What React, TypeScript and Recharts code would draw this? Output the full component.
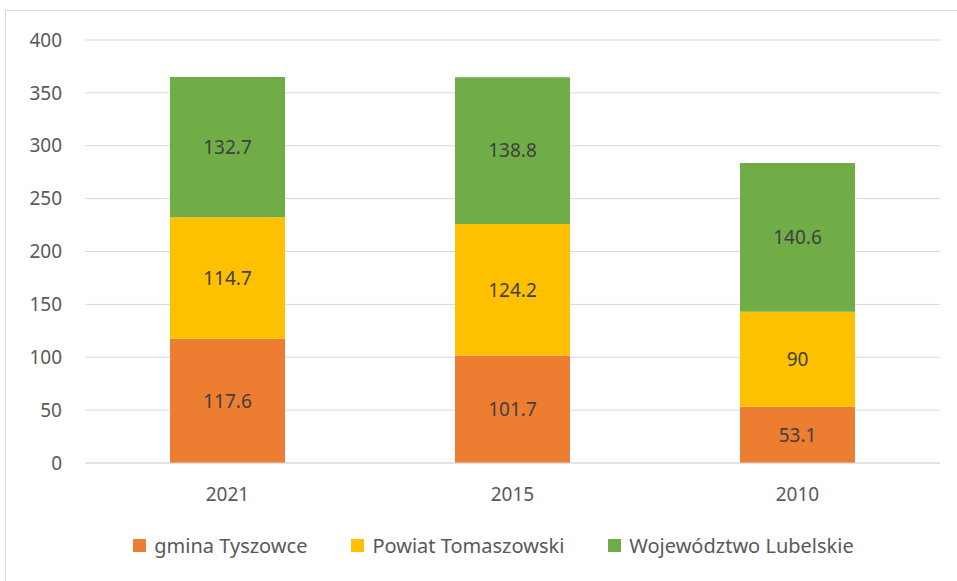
import { BarChart, Bar, XAxis, YAxis, CartesianGrid, Legend, LabelList } from 'recharts'

const years = ['2021', '2015', '2010']
const gmina = [117.6, 101.7, 53.1]
const powiat = [114.7, 124.2, 90]
const wojewodztwo = [132.7, 138.8, 140.6]
const yTicks = [0, 50, 100, 150, 200, 250, 300, 350, 400]

const data = years.map((year, i) => ({
  year,
  gmina: gmina[i],
  powiat: powiat[i],
  wojewodztwo: wojewodztwo[i],
}))

const font = "'Noto Sans', sans-serif"

function LegendContent({ payload }: any) {
  return (
    <div style={{ display: 'flex', justifyContent: 'center', gap: 44, fontSize: 20, fontFamily: font, color: '#595959', paddingLeft: 30 }}>
      {(payload || []).map((p: any) => (
        <div key={p.value} style={{ display: 'flex', alignItems: 'center' }}>
          <span style={{ width: 13, height: 13, background: p.color, marginRight: 8, display: 'inline-block' }} />
          {p.value}
        </div>
      ))}
    </div>
  )
}

export default function App() {
  return (
    <div style={{ position: 'absolute', left: 0, top: 0, width: 957, height: 581, background: '#fff', overflow: 'hidden', fontFamily: font }}>
      <div style={{ position: 'absolute', left: 5, top: 10, width: 960, height: 600, border: '1px solid #d9d9d9' }} />
      <BarChart
        width={957}
        height={581}
        data={data}
        margin={{ top: 40, right: 17, left: 0, bottom: 38 }}
        barSize={115}
      >
        <CartesianGrid vertical={false} stroke="#d9d9d9" />
        <XAxis
          dataKey="year"
          height={50}
          tickLine={false}
          tickSize={0}
          tickMargin={25}
          stroke="#d9d9d9"
          tick={{ fill: '#595959', fontSize: 19, fontFamily: font }}
        />
        <YAxis
          width={85}
          domain={[0, 400]}
          ticks={yTicks}
          axisLine={false}
          tickLine={false}
          tickSize={0}
          tickMargin={23}
          tick={{ fill: '#595959', fontSize: 19, fontFamily: font }}
        />
        <Legend
          verticalAlign="bottom"
          itemSorter={null}
          content={<LegendContent />}
          wrapperStyle={{ top: 532, left: 0, width: 957, height: 30 }}
        />
        <Bar dataKey="gmina" name="gmina Tyszowce" stackId="a" fill="#ED7D31" isAnimationActive={false}>
          <LabelList dataKey="gmina" position="center" fill="#404040" fontSize={19} fontFamily={font} />
        </Bar>
        <Bar dataKey="powiat" name="Powiat Tomaszowski" stackId="a" fill="#FFC000" isAnimationActive={false}>
          <LabelList dataKey="powiat" position="center" fill="#404040" fontSize={19} fontFamily={font} />
        </Bar>
        <Bar dataKey="wojewodztwo" name="Województwo Lubelskie" stackId="a" fill="#70AD47" isAnimationActive={false}>
          <LabelList dataKey="wojewodztwo" position="center" fill="#404040" fontSize={19} fontFamily={font} />
        </Bar>
      </BarChart>
    </div>
  )
}
